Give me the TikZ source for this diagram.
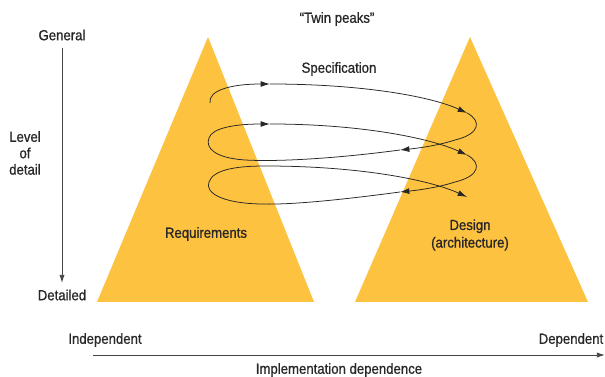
\documentclass[tikz,border=0pt]{standalone}
\usepackage{fontspec}
\setmainfont{Liberation Sans}[FakeStretch=0.9,FakeBold=0.8]
\usetikzlibrary{arrows.meta}
\definecolor{peak}{RGB}{252,194,64}
\definecolor{ink}{RGB}{40,38,38}
\definecolor{axisgray}{RGB}{70,70,70}
\begin{document}
\begin{tikzpicture}[x=0.03cm,y=-0.03cm,
  label/.style={text=ink,font=\fontsize{12.5}{14}\selectfont,inner sep=0pt,align=center},
  peakshape/.style={fill=peak,draw=none},
  axis/.style={draw=axisgray,line width=0.8pt,-{Latex[length=7pt,width=4.5pt]}},
  loop/.style={draw=ink,line width=0.65pt,-{Latex[length=8pt,width=5pt]}}]
\useasboundingbox (0,0) rectangle (605,377);

% the two peaks
\fill[peakshape] (208,37) -- (314,302) -- (97,302) -- cycle;
\fill[peakshape] (470,37) -- (588,302) -- (355,302) -- cycle;

% titles and labels
\node[label] (title) at (337,19) {``Twin peaks''};
\node[label] (spec) at (339,69) {Specification};
\node[label] (req) at (206,234) {Requirements};
\node[label,align=center] (design) at (470,235) {Design\\[1pt](architecture)};

% level of detail axis
\node[label] (general) at (62,35) {General};
\node[label] (detailed) at (62,295) {Detailed};
\node[label,align=center] (level) at (25,153) {Level\\[0pt]of\\[0pt]detail};
\coordinate (vtop) at (62,48);
\coordinate (vbot) at (62,283);
\draw[axis] (vtop) -- (vbot);

% implementation dependence axis
\node[label] (indep) at (105,340) {Independent};
\node[label] (dep) at (571,340) {Dependent};
\node[label] (impl) at (339,370) {Implementation dependence};
\coordinate (hleft) at (93,355);
\coordinate (hright) at (605,355);
\draw[axis] (hleft) -- (hright);

% spiral between the peaks
\coordinate (s0) at (210,103);
\coordinate (a1) at (270,84);
\coordinate (a2) at (467,113);
\coordinate (a3) at (400,150);
\coordinate (a4) at (270,124);
\coordinate (a5) at (467,155);
\coordinate (a6) at (400,192);
\coordinate (a7) at (467,197);
\draw[loop] (s0) .. controls (208,90) and (232,84) .. (a1);
\draw[loop] (a1) .. controls (360,84) and (430,96) .. (a2);
\draw[loop] (a2) .. controls (482,121) and (480,134) .. (455,140)
  .. controls (440,145) and (420,148) .. (a3);
\draw[loop] (a3) .. controls (340,158) and (280,162) .. (245,160)
  .. controls (215,158) and (205,148) .. (209,138)
  .. controls (212,128) and (235,124) .. (a4);
\draw[loop] (a4) .. controls (360,124) and (430,138) .. (a5);
\draw[loop] (a5) .. controls (482,163) and (480,176) .. (455,182)
  .. controls (440,187) and (420,190) .. (a6);
\draw[loop] (a6) .. controls (340,200) and (290,205) .. (260,204)
  .. controls (220,203) and (205,192) .. (209,182)
  .. controls (213,170) and (235,166) .. (265,166)
  .. controls (360,166) and (430,180) .. (a7);
\end{tikzpicture}
\end{document}
